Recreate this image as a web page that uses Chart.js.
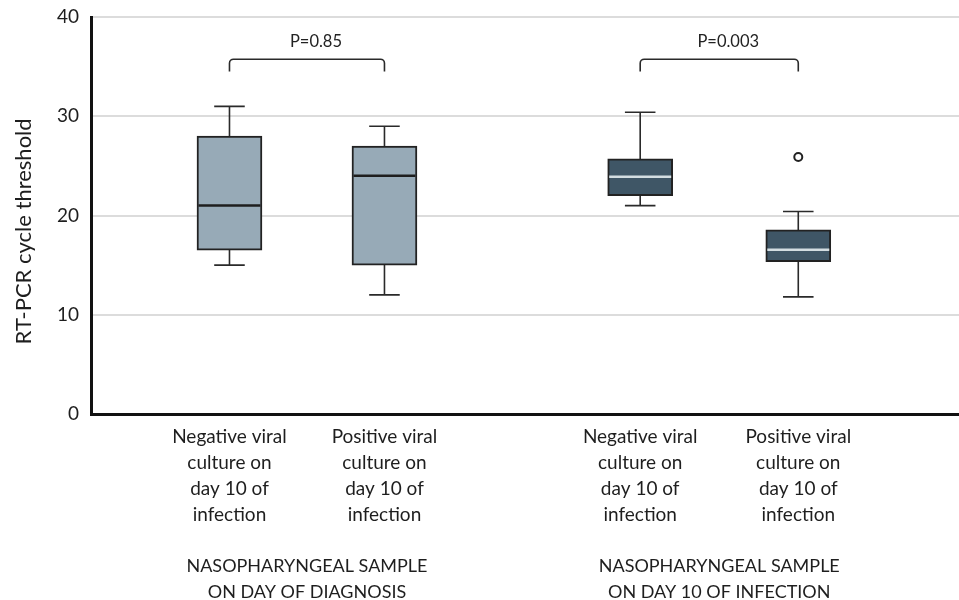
<!DOCTYPE html>
<html>
<head>
<meta charset="utf-8">
<script src="https://cdn.jsdelivr.net/npm/chart.js@4"></script>
<style>
  html, body { margin: 0; padding: 0; background: #fff; }
  #wrap { width: 959px; height: 600px; }
</style>
</head>
<body>
<div id="wrap"><canvas id="boxChart"></canvas></div>
<script>
// box plot data (RT-PCR Ct values)
var cultureLabels = [
    ["Negative viral", "culture on", "day 10 of", "infection"],
    ["Positive viral", "culture on", "day 10 of", "infection"],
    ["Negative viral", "culture on", "day 10 of", "infection"],
    ["Positive viral", "culture on", "day 10 of", "infection"]
];
var groupLabels = [
    ["NASOPHARYNGEAL SAMPLE", "ON DAY OF DIAGNOSIS"],
    ["NASOPHARYNGEAL SAMPLE", "ON DAY 10 OF INFECTION"]
];
var xPos = [1, 2, 3.65, 4.67];
var whiskerLow = [15, 12, 21, 11.8];
var q1 = [16.5, 15, 22, 15.35];
var median = [21, 24, 23.9, 16.55];
var q3 = [28, 27, 25.7, 18.55];
var whiskerHigh = [31, 29, 30.4, 20.4];
var outlierBox = [3];
var outlierValue = [25.9];
var pValues = ["P=0.85", "P=0.003"];
var yTicks = [0, 10, 20, 30, 40];
var yTitle = "RT-PCR cycle threshold";

var boxColors = ["#97aab7", "#97aab7", "#3f5666", "#3f5666"];
var medianColors = ["#1e1e1e", "#1e1e1e", "#d3dde1", "#d3dde1"];
var FONT = "Lato, 'Open Sans', sans-serif";

var groupPos = [(xPos[0] + xPos[1]) / 2, (xPos[2] + xPos[3]) / 2];

var boxData = xPos.map(function (x, i) { return {x: x, y: [q1[i], q3[i]]}; });
var outlierData = outlierBox.map(function (b, i) { return {x: xPos[b], y: outlierValue[i]}; });

function noPad(s) {
    s.paddingLeft = 0; s.paddingRight = 0;
    s.paddingTop = 0; s.paddingBottom = 0;
}

// whiskers, medians, p-value brackets and the y title
var boxExtras = {
    id: "boxExtras",
    beforeDatasetsDraw: function (chart) {
        var ctx = chart.ctx, ys = chart.scales.y;
        var bars = chart.getDatasetMeta(0).data;
        ctx.save();
        ctx.strokeStyle = "#2a2a2a";
        ctx.lineWidth = 1.6;
        bars.forEach(function (bar, i) {
            var cap = bar.width * 0.235;
            ctx.beginPath();
            ctx.moveTo(bar.x, ys.getPixelForValue(whiskerLow[i]));
            ctx.lineTo(bar.x, ys.getPixelForValue(whiskerHigh[i]));
            [whiskerLow[i], whiskerHigh[i]].forEach(function (v) {
                var py = ys.getPixelForValue(v);
                ctx.moveTo(bar.x - cap, py);
                ctx.lineTo(bar.x + cap, py);
            });
            ctx.stroke();
        });
        ctx.restore();
    },
    afterDatasetsDraw: function (chart) {
        var ctx = chart.ctx, ys = chart.scales.y;
        var bars = chart.getDatasetMeta(0).data;
        ctx.save();
        ctx.lineWidth = 2.5;
        bars.forEach(function (bar, i) {
            var half = bar.width / 2 - 1.5;
            var py = ys.getPixelForValue(median[i]);
            ctx.strokeStyle = medianColors[i];
            ctx.beginPath();
            ctx.moveTo(bar.x - half, py);
            ctx.lineTo(bar.x + half, py);
            ctx.stroke();
        });
        // brackets
        ctx.strokeStyle = "#2a2a2a";
        ctx.lineWidth = 1.6;
        ctx.fillStyle = "#222";
        ctx.font = "16.5px " + FONT;
        ctx.textAlign = "center";
        ctx.textBaseline = "middle";
        for (var g = 0; g < 2; g++) {
            var a = bars[g * 2].x, b = bars[g * 2 + 1].x;
            var top = ys.getPixelForValue(35.75), low = ys.getPixelForValue(34.5), r = 4;
            ctx.beginPath();
            ctx.moveTo(a, low);
            ctx.arcTo(a, top, a + r, top, r);
            ctx.arcTo(b, top, b, top + r, r);
            ctx.lineTo(b, low);
            ctx.stroke();
            ctx.fillText(pValues[g], (a + b) / 2 + 9, ys.getPixelForValue(37.5));
        }
        // y axis title, sits a bit below the middle of the axis
        ctx.translate(24, ys.getPixelForValue(18.4));
        ctx.rotate(-Math.PI / 2);
        ctx.fillStyle = "#1e1e1e";
        ctx.font = "22px " + FONT;
        ctx.fillText(yTitle, 0, 0);
        ctx.restore();
    }
};

new Chart(document.getElementById("boxChart"), {
    type: "bar",
    data: {
        datasets: [{
            data: boxData,
            backgroundColor: boxColors,
            borderColor: "#222",
            borderWidth: 2,
            borderSkipped: false,
            barThickness: 65
        }, {
            type: "scatter",
            data: outlierData,
            pointRadius: 4,
            pointBackgroundColor: "#fff",
            pointBorderColor: "#222",
            pointBorderWidth: 2
        }]
    },
    options: {
        responsive: true,
        maintainAspectRatio: false,
        animation: false,
        layout: {autoPadding: false, padding: {top: 17, right: 0, left: 0, bottom: 0}},
        plugins: {legend: {display: false}, tooltip: {enabled: false}},
        scales: {
            x: {
                type: "linear",
                offset: false,
                min: 0.1065,
                max: 5.707,
                afterBuildTicks: function (axis) {
                    axis.ticks = xPos.map(function (v) { return {value: v}; });
                },
                afterFit: function (s) { s.height = 130; noPad(s); },
                ticks: {
                    autoSkip: false,
                    maxRotation: 0,
                    padding: 10,
                    color: "#1e1e1e",
                    font: {family: FONT, size: 19, lineHeight: 1.37},
                    callback: function (v, i) { return cultureLabels[i]; }
                },
                grid: {display: false, drawTicks: false, offset: false},
                border: {display: true, color: "#111", width: 3}
            },
            x2: {
                type: "linear",
                position: "bottom",
                offset: false,
                min: 0.1065,
                max: 5.707,
                afterBuildTicks: function (axis) {
                    axis.ticks = groupPos.map(function (v) { return {value: v}; });
                },
                afterFit: function (s) { s.height = 56; noPad(s); },
                ticks: {
                    autoSkip: false,
                    maxRotation: 0,
                    padding: 9,
                    color: "#1e1e1e",
                    font: {family: FONT, size: 18, lineHeight: 1.44},
                    callback: function (v, i) { return groupLabels[i]; }
                },
                grid: {display: false, drawTicks: false, offset: false},
                border: {display: false}
            },
            y: {
                min: 0,
                max: 40,
                afterBuildTicks: function (axis) {
                    axis.ticks = yTicks.map(function (v) { return {value: v}; });
                },
                afterFit: function (s) { s.width = 91; noPad(s); },
                ticks: {
                    padding: 12,
                    color: "#1e1e1e",
                    font: {family: FONT, size: 19}
                },
                grid: {
                    drawTicks: false,
                    lineWidth: 2,
                    color: function (c) { return c.tick && c.tick.value === 0 ? "rgba(0,0,0,0)" : "#dcdcdc"; }
                },
                border: {display: true, color: "#111", width: 3}
            }
        }
    },
    plugins: [boxExtras]
});
</script>
</body>
</html>
